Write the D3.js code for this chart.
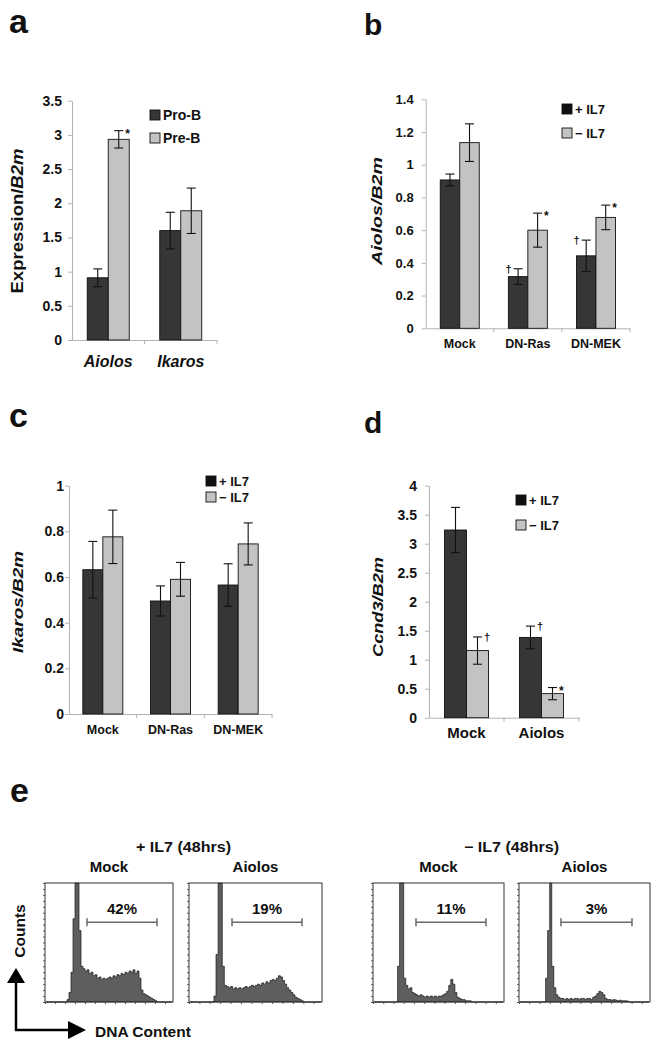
<!DOCTYPE html>
<html><head><meta charset="utf-8">
<script src="https://cdn.jsdelivr.net/npm/d3@7"></script>
<style>
body{margin:0;background:#fff}
svg{display:block}
text{font-family:"Liberation Sans",Arial,Helvetica,sans-serif;font-weight:bold;fill:#111}
</style>
</head><body>
<svg id="fig" width="658" height="1050"></svg>
<script>
// ---------- Panel a ----------
const aCategories = ["Aiolos", "Ikaros"];
const aSeries = ["Pro-B", "Pre-B"];
const aValues = [[0.91, 2.935], [1.60, 1.89]];
const aErrors = [[0.13, 0.127], [0.268, 0.332]];
const aTickLabels = ["0", "0.5", "1", "1.5", "2", "2.5", "3", "3.5"];
const aMarks = [{cat: 0, ser: 1, sym: "*", side: "R"}];

// ---------- Panel b ----------
const bCategories = ["Mock", "DN-Ras", "DN-MEK"];
const bSeries = ["+ IL7", "\u2212 IL7"];
const bValues = [[0.907, 1.135], [0.316, 0.60], [0.443, 0.678]];
const bErrors = [[0.036, 0.115], [0.048, 0.104], [0.096, 0.075]];
const bTickLabels = ["0", "0.2", "0.4", "0.6", "0.8", "1", "1.2", "1.4"];
const bMarks = [{cat: 1, ser: 0, sym: "\u2020", side: "L"}, {cat: 1, ser: 1, sym: "*", side: "R"},
                {cat: 2, ser: 0, sym: "\u2020", side: "L"}, {cat: 2, ser: 1, sym: "*", side: "R"}];

// ---------- Panel c ----------
const cCategories = ["Mock", "DN-Ras", "DN-MEK"];
const cSeries = ["+ IL7", "\u2212 IL7"];
const cValues = [[0.632, 0.776], [0.495, 0.59], [0.565, 0.745]];
const cErrors = [[0.124, 0.117], [0.066, 0.074], [0.093, 0.092]];
const cTickLabels = ["0", "0.2", "0.4", "0.6", "0.8", "1"];
const cMarks = [];

// ---------- Panel d ----------
const dCategories = ["Mock", "Aiolos"];
const dSeries = ["+ IL7", "\u2212 IL7"];
const dValues = [[3.236, 1.157], [1.384, 0.415]];
const dErrors = [[0.39, 0.235], [0.195, 0.105]];
const dTickLabels = ["0", "0.5", "1", "1.5", "2", "2.5", "3", "3.5", "4"];
const dMarks = [{cat: 0, ser: 1, sym: "\u2020", side: "R"}, {cat: 1, ser: 0, sym: "\u2020", side: "R"},
                {cat: 1, ser: 1, sym: "*", side: "R"}];

// ---------- Panel e (DNA content histograms, 64 channels, fraction of plot height) ----------
const eGroups = ["+ IL7 (48hrs)", "\u2212 IL7 (48hrs)"];
const eSamples = ["Mock", "Aiolos", "Mock", "Aiolos"];
const ePercents = ["42%", "19%", "11%", "3%"];
const eGates = [[21, 56], [20.7, 54.4], [21, 55.2], [20.5, 55.2]];
const histMockPlus = [0,0,0,0,0,0,0,0,0,0,0,0.02,0.08,0.25,0.7,1.2,
  1.2,0.6,0.3,0.28,0.26,0.27,0.24,0.25,0.22,0.23,0.2,0.21,0.19,0.2,0.19,0.2,
  0.21,0.2,0.22,0.21,0.23,0.22,0.24,0.23,0.25,0.24,0.26,0.25,0.27,0.24,0.26,0.2,
  0.1,0.07,0.06,0.05,0.04,0.03,0.02,0.01,0,0,0,0,0,0,0,0];
const histAiolosPlus = [0,0,0,0,0,0,0,0,0,0,0,0,0.05,0.4,1.2,1.2,
  0.3,0.14,0.13,0.12,0.13,0.11,0.12,0.11,0.12,0.11,0.12,0.13,0.12,0.13,0.14,0.13,
  0.14,0.15,0.14,0.16,0.15,0.17,0.16,0.18,0.19,0.18,0.2,0.22,0.21,0.18,0.15,0.12,
  0.1,0.08,0.06,0.04,0.03,0.02,0.01,0,0,0,0,0,0,0,0,0];
const histMockMinus = [0,0,0,0,0,0,0,0,0,0,0,0,0.3,1.2,1.2,0.2,
  0.14,0.11,0.12,0.08,0.07,0.06,0.05,0.06,0.05,0.04,0.05,0.04,0.05,0.04,0.05,0.04,
  0.05,0.05,0.06,0.07,0.09,0.14,0.19,0.15,0.08,0.04,0.03,0.02,0.02,0.01,0.01,0.01,
  0,0,0,0,0,0,0,0,0,0,0,0,0,0,0,0];
const histAiolosMinus = [0,0,0,0,0,0,0,0,0,0,0,0,0,0.2,0.6,1.2,
  0.3,0.12,0.06,0.04,0.03,0.03,0.02,0.03,0.02,0.03,0.02,0.03,0.03,0.02,0.03,0.03,
  0.02,0.03,0.03,0.02,0.04,0.05,0.07,0.09,0.08,0.06,0.03,0.02,0.02,0.015,0.02,0.015,
  0.01,0.015,0.01,0.01,0.01,0.005,0,0,0,0,0,0,0,0,0,0];
const eHists = [histMockPlus, histAiolosPlus, histMockMinus, histAiolosMinus];

const svg = d3.select("#fig");
const DARK = "#363636", LIGHT = "#c3c3c3", AXIS = "#b3b3b3";

function panelLetter(t, x, y, size) {
  svg.append("text").attr("x", x).attr("y", y).attr("font-size", size).text(t);
}

function barPanel(cfg) {
  const g = svg.append("g");
  const yMax = +cfg.tickLabels[cfg.tickLabels.length - 1];
  const y = d3.scaleLinear().domain([0, yMax]).range([cfg.y0, cfg.y1]);
  const x = d3.scaleBand().domain(cfg.categories).range([cfg.x0, cfg.x1]);
  const sub = d3.scaleBand().domain(cfg.series).range([-cfg.barW, cfg.barW]);

  const ya = g.append("g").attr("transform", `translate(${cfg.x0},0)`)
    .call(d3.axisLeft(y).tickValues(cfg.tickLabels.map(Number)).tickSizeInner(4).tickSizeOuter(0)
      .tickPadding(cfg.tickPad).tickFormat((d, i) => cfg.tickLabels[i]));
  ya.select(".domain").attr("stroke", AXIS);
  ya.selectAll(".tick line").attr("stroke", AXIS);
  ya.selectAll(".tick text").attr("font-size", cfg.tickFont).attr("font-family", null).style("fill", "#111");

  const xa = g.append("g").attr("transform", `translate(0,${cfg.y0})`)
    .call(d3.axisBottom(x).tickSize(0).tickSizeOuter(0));
  xa.select(".domain").attr("stroke", AXIS);
  xa.selectAll(".tick text").attr("dy", null).attr("y", cfg.xLabelDy)
    .attr("font-size", cfg.xFont).attr("font-family", null)
    .attr("font-style", cfg.xItalic ? "italic" : null).style("fill", "#111");
  g.append("g").selectAll("line").data(cfg.categories).join("line")
    .attr("x1", d => x(d) + x.bandwidth()).attr("x2", d => x(d) + x.bandwidth())
    .attr("y1", cfg.y0).attr("y2", cfg.y0 + 4).attr("stroke", AXIS);

  const rows = [];
  cfg.categories.forEach((c, i) => cfg.series.forEach((s, j) =>
    rows.push({c, s, j, v: cfg.values[i][j], e: cfg.errors[i][j],
      cx: x(c) + x.bandwidth() / 2 + sub(s) + sub.bandwidth() / 2})));
  g.append("g").selectAll("rect").data(rows).join("rect")
    .attr("x", d => x(d.c) + x.bandwidth() / 2 + sub(d.s))
    .attr("width", sub.bandwidth())
    .attr("y", d => y(d.v)).attr("height", d => y(0) - y(d.v))
    .attr("fill", d => d.j === 0 ? DARK : LIGHT)
    .attr("stroke", "#111").attr("stroke-width", 0.9);

  const cap = 4.5;
  const eg = g.append("g").attr("stroke", "#111").attr("stroke-width", 1.1);
  rows.forEach(d => {
    eg.append("line").attr("x1", d.cx).attr("x2", d.cx).attr("y1", y(d.v + d.e)).attr("y2", y(d.v - d.e));
    eg.append("line").attr("x1", d.cx - cap).attr("x2", d.cx + cap).attr("y1", y(d.v + d.e)).attr("y2", y(d.v + d.e));
    eg.append("line").attr("x1", d.cx - cap).attr("x2", d.cx + cap).attr("y1", y(d.v - d.e)).attr("y2", y(d.v - d.e));
  });

  cfg.marks.forEach(m => {
    const d = rows.find(r => r.c === cfg.categories[m.cat] && r.j === m.ser);
    const star = m.sym === "*";
    g.append("text")
      .attr("x", m.side === "R" ? d.cx + cap + 2 : d.cx - cap - 2)
      .attr("y", y(d.v + d.e) + (star ? 7 : 4))
      .attr("text-anchor", m.side === "R" ? "start" : "end")
      .attr("font-size", star ? 12 : 11).attr("font-weight", star ? "bold" : "normal")
      .style("fill", "#111")
      .text(m.sym);
  });

  cfg.series.forEach((s, j) => {
    const ly = cfg.legY[j];
    g.append("rect").attr("x", cfg.legX).attr("y", ly - 10).attr("width", 10).attr("height", 10)
      .attr("fill", j === 0 ? (cfg.legDark || DARK) : LIGHT).attr("stroke", "#111").attr("stroke-width", 0.9);
    g.append("text").attr("x", cfg.legX + 13).attr("y", ly).attr("font-size", cfg.legFont).text(s);
  });

  const yl = g.append("text")
    .attr("transform", `translate(${cfg.yLabX},${cfg.yLabY}) rotate(-90)`)
    .attr("text-anchor", "middle").attr("font-size", cfg.yLabFont)
    .attr("textLength", cfg.yLabLen).attr("lengthAdjust", "spacingAndGlyphs");
  cfg.yLabel.forEach(p => yl.append("tspan").attr("font-style", p[1] ? "italic" : null).text(p[0]));
}

panelLetter("a", 9, 33, 34);
panelLetter("b", 364, 35, 30);
panelLetter("c", 9, 427, 34);
panelLetter("d", 364, 433, 30);
panelLetter("e", 10, 802, 34);

barPanel({categories: aCategories, series: aSeries, values: aValues, errors: aErrors,
  tickLabels: aTickLabels, marks: aMarks, x0: 72, x1: 217, y0: 340, y1: 100.7, barW: 21,
  tickPad: 6, tickFont: 14, xLabelDy: 27, xFont: 16, xItalic: true,
  legX: 150, legY: [120, 143], legFont: 14,
  yLabel: [["Expression/", false], ["B2m", true]], yLabX: 23, yLabY: 221, yLabFont: 16, yLabLen: 145});

barPanel({categories: bCategories, series: bSeries, values: bValues, errors: bErrors,
  tickLabels: bTickLabels, marks: bMarks, x0: 425.7, x1: 630, y0: 328.3, y1: 99.3, barW: 19.5,
  tickPad: 8, tickFont: 13, xLabelDy: 19.5, xFont: 12.5, xItalic: false,
  legX: 562, legY: [114, 138], legFont: 13, legDark: "#111",
  yLabel: [["Aiolos/B2m", true]], yLabX: 382, yLabY: 211, yLabFont: 15, yLabLen: 108});

barPanel({categories: cCategories, series: cSeries, values: cValues, errors: cErrors,
  tickLabels: cTickLabels, marks: cMarks, x0: 69, x1: 272, y0: 714, y1: 485.7, barW: 20,
  tickPad: 1, tickFont: 14, xLabelDy: 20, xFont: 12.5, xItalic: false,
  legX: 206, legY: [486, 502], legFont: 13, legDark: "#111",
  yLabel: [["Ikaros/B2m", true]], yLabX: 23, yLabY: 602, yLabFont: 15, yLabLen: 102});

barPanel({categories: dCategories, series: dSeries, values: dValues, errors: dErrors,
  tickLabels: dTickLabels, marks: dMarks, x0: 429, x1: 579, y0: 717.7, y1: 485.7, barW: 22,
  tickPad: 8, tickFont: 14, xLabelDy: 20.5, xFont: 15, xItalic: false,
  legX: 516, legY: [505, 530], legFont: 13, legDark: "#111",
  yLabel: [["Ccnd3/B2m", true]], yLabX: 383, yLabY: 607, yLabFont: 15, yLabLen: 100});

// ---------- Panel e ----------
const boxes = [{x0: 45, x1: 173}, {x0: 189, x1: 322}, {x0: 373, x1: 504}, {x0: 519, x1: 650}];
const bTop = 883, bBot = 1002;
const eg = svg.append("g");
eGroups.forEach((t, k) => {
  const cx = (boxes[2 * k].x0 + boxes[2 * k + 1].x1) / 2;
  eg.append("text").attr("x", cx).attr("y", 852).attr("text-anchor", "middle")
    .attr("font-size", 14).attr("textLength", 95).attr("lengthAdjust", "spacingAndGlyphs").text(t);
});
eHists.forEach((h, i) => {
  const b = boxes[i];
  const x = d3.scaleLinear().domain([0, h.length]).range([b.x0, b.x1]);
  const y = d3.scaleLinear().domain([0, 1]).range([bBot, bTop]).clamp(true);
  const g = eg.append("g");
  g.append("text").attr("x", (b.x0 + b.x1) / 2).attr("y", 872).attr("text-anchor", "middle")
    .attr("font-size", 15).text(eSamples[i]);
  const area = d3.area().x((d, k) => x(k + 0.5)).y0(bBot).y1(d => y(d)).curve(d3.curveStep);
  g.append("path").datum(h).attr("d", area).attr("fill", "#5e5e5e")
    .attr("stroke", "#1a1a1a").attr("stroke-width", 0.7);
  g.append("rect").attr("x", b.x0).attr("y", bTop).attr("width", b.x1 - b.x0).attr("height", bBot - bTop)
    .attr("fill", "none").attr("stroke", "#333").attr("stroke-width", 1);
  const la = g.append("g").attr("transform", `translate(${b.x0},0)`)
    .call(d3.axisLeft(y).ticks(20).tickSize(2).tickSizeOuter(0).tickFormat(""));
  la.select(".domain").remove(); la.selectAll("line").attr("stroke", "#555");
  const ba = g.append("g").attr("transform", `translate(0,${bBot})`)
    .call(d3.axisBottom(x).ticks(20).tickSize(2).tickSizeOuter(0).tickFormat(""));
  ba.select(".domain").remove(); ba.selectAll("line").attr("stroke", "#555");
  const gy = bBot - 0.67 * (bBot - bTop);
  const [ga, gb] = eGates[i];
  const gg = g.append("g").attr("stroke", "#6a6a6a").attr("stroke-width", 1.5);
  gg.append("line").attr("x1", x(ga)).attr("x2", x(gb)).attr("y1", gy).attr("y2", gy);
  gg.append("line").attr("x1", x(ga)).attr("x2", x(ga)).attr("y1", gy - 4).attr("y2", gy + 4);
  gg.append("line").attr("x1", x(gb)).attr("x2", x(gb)).attr("y1", gy - 4).attr("y2", gy + 4);
  g.append("text").attr("x", (x(ga) + x(gb)) / 2).attr("y", gy - 8).attr("text-anchor", "middle")
    .attr("font-size", 15).text(ePercents[i]);
});

const ar = eg.append("g");
ar.append("path").attr("d", "M16,1031 L16,982 M15,1030 L68,1030")
  .attr("stroke", "#000").attr("stroke-width", 2.5).attr("fill", "none");
ar.append("path").attr("d", "M16,968 L7,983 L25,983 Z M86,1030 L68,1021 L68,1039 Z").attr("fill", "#000");
ar.append("text").attr("transform", "translate(25,931) rotate(-90)").attr("text-anchor", "middle")
  .attr("font-size", 15.5).text("Counts");
ar.append("text").attr("x", 95).attr("y", 1037).attr("font-size", 15.5).text("DNA Content");
</script>
</body></html>
